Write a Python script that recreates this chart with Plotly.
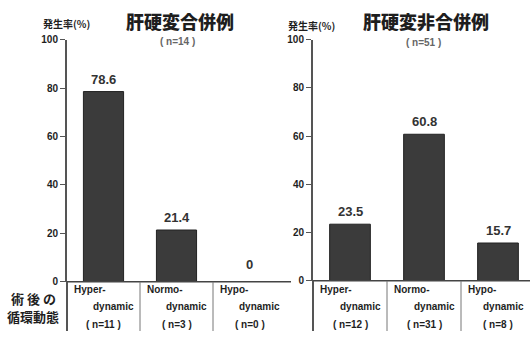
import plotly.graph_objects as go

# Incidence (%) by postoperative circulatory state
categories = ["Hyper-dynamic", "Normo-dynamic", "Hypo-dynamic"]
cat_top = ["Hyper-", "Normo-", "Hypo-"]
cat_bottom = ["dynamic", "dynamic", "dynamic"]

cirrhosis_rate = [78.6, 21.4, 0.0]
cirrhosis_n = [11, 3, 0]
cirrhosis_total = 14

noncirrhosis_rate = [23.5, 60.8, 15.7]
noncirrhosis_n = [12, 31, 8]
noncirrhosis_total = 51

y_ticks = [0, 20, 40, 60, 80, 100]

W, H = 530, 337
LATIN = "Liberation Sans, Arial, sans-serif"
CJK = "Noto Sans CJK JP, sans-serif"
BAR = "#3b3b3b"
INK = "#1e1e1e"
AXIS = "#555555"


def px(x):
    return x / W


def py(y):
    return 1 - y / H


# panel geometry in pixels: axis left edge and width of one category cell
LEFT_X0, LEFT_CELL = 67, 73
RIGHT_X0, RIGHT_CELL = 313, 74

fig = go.Figure()
xs = list(range(len(categories)))

fig.add_trace(go.Bar(x=xs, y=cirrhosis_rate, width=0.55, marker=dict(color=BAR, line=dict(color="#222", width=1)),
                     xaxis="x", yaxis="y", showlegend=False, hoverinfo="skip"))
fig.add_trace(go.Bar(x=xs, y=noncirrhosis_rate, width=0.55, marker=dict(color=BAR, line=dict(color="#222", width=1)),
                     xaxis="x2", yaxis="y2", showlegend=False, hoverinfo="skip"))

yax = dict(range=[0, 100], tickvals=y_ticks, ticks="outside", ticklen=5, tickwidth=1, tickcolor=AXIS,
           showline=True, linecolor=AXIS, linewidth=2, showgrid=False, zeroline=False,
           tickfont=dict(family=LATIN, size=10, color=INK, weight="bold"), fixedrange=True)
xax = dict(showticklabels=False, ticks="", showline=False, showgrid=False, zeroline=False, fixedrange=True)

fig.update_layout(
    width=W, height=H,
    margin=dict(l=0, r=0, t=0, b=0),
    paper_bgcolor="white", plot_bgcolor="white",
    xaxis=dict(xax, domain=[px(LEFT_X0), px(LEFT_X0 + 3 * LEFT_CELL)], range=[-0.5, 2.5]),
    yaxis=dict(yax, domain=[py(286), py(35)], anchor="x"),
    xaxis2=dict(xax, domain=[px(RIGHT_X0), 1.0], range=[-0.5, -0.5 + (W - RIGHT_X0) / RIGHT_CELL]),
    yaxis2=dict(yax, domain=[py(285), py(35)], anchor="x2"),
)

shapes = []
# baselines
shapes.append(dict(type="line", xref="paper", yref="paper", x0=px(67), x1=px(291), y0=py(286), y1=py(286),
                   line=dict(color="#444", width=1.5)))
shapes.append(dict(type="line", xref="paper", yref="paper", x0=px(313), x1=1.0, y0=py(285), y1=py(285),
                   line=dict(color="#444", width=1.5)))
# axis continuation below the baseline
for xp, y0 in [(LEFT_X0, 286), (RIGHT_X0, 285)]:
    shapes.append(dict(type="line", xref="paper", yref="paper", x0=px(xp), x1=px(xp), y0=py(y0), y1=0,
                       line=dict(color=AXIS, width=2)))
# category separators
for xr, y0 in [("x", 286), ("x2", 285)]:
    for b in [0.5, 1.5]:
        shapes.append(dict(type="line", xref=xr, yref="paper", x0=b, x1=b, y0=py(y0), y1=0,
                           line=dict(color="#777", width=1)))
fig.update_layout(shapes=shapes)

ann = []


def text(x, y, s, size, xanchor="center", color=INK, family=LATIN, weight="bold"):
    ann.append(dict(x=x, y=y, xref="paper", yref="paper", text=s, showarrow=False, xanchor=xanchor,
                    yanchor="middle",
                    font=dict(family=family, size=size, color=color, weight=weight)))


# panel titles
text(px(180), py(16), "肝硬変合併例", 18, family=CJK, weight=900)
text(px(177), py(37), f"( n={cirrhosis_total} )", 10, color="#666")
text(px(426), py(16), "肝硬変非合併例", 18, family=CJK, weight=900)
text(px(423), py(38), f"( n={noncirrhosis_total} )", 10, color="#666")

# y-axis captions
text(px(66), py(18), "発生率(%)", 10, family=CJK)
text(px(311), py(20), "発生率(%)", 10, family=CJK)

# row header
text(px(33), py(303), "術 後 の", 13, family=CJK)
text(px(33), py(322), "循環動態", 13, family=CJK)

# value labels above bars
for xr, yr, vals in [("x", "y", cirrhosis_rate), ("x2", "y2", noncirrhosis_rate)]:
    for i, v in enumerate(vals):
        ann.append(dict(x=i, y=v, xref=xr, yref=yr, text=f"{v:g}" if v == 0 else f"{v:.1f}",
                        showarrow=False, xanchor="center", yanchor="bottom", yshift=3 if v else 8,
                        font=dict(family=LATIN, size=13, color="#333", weight="bold")))

# category labels under each bar
for x0, cell, counts in [(LEFT_X0, LEFT_CELL, cirrhosis_n), (RIGHT_X0, RIGHT_CELL, noncirrhosis_n)]:
    for i, n in enumerate(counts):
        left = x0 + i * cell
        right = min(left + cell, W)
        text(px(left + 5), py(294), cat_top[i], 10, xanchor="left")
        text(px(right - 4), py(312), cat_bottom[i], 10, xanchor="right")
        text(px(left + cell / 2), py(330), f"( n={n} )", 10)

fig.update_layout(annotations=ann)
fig.write_html("out.html")
